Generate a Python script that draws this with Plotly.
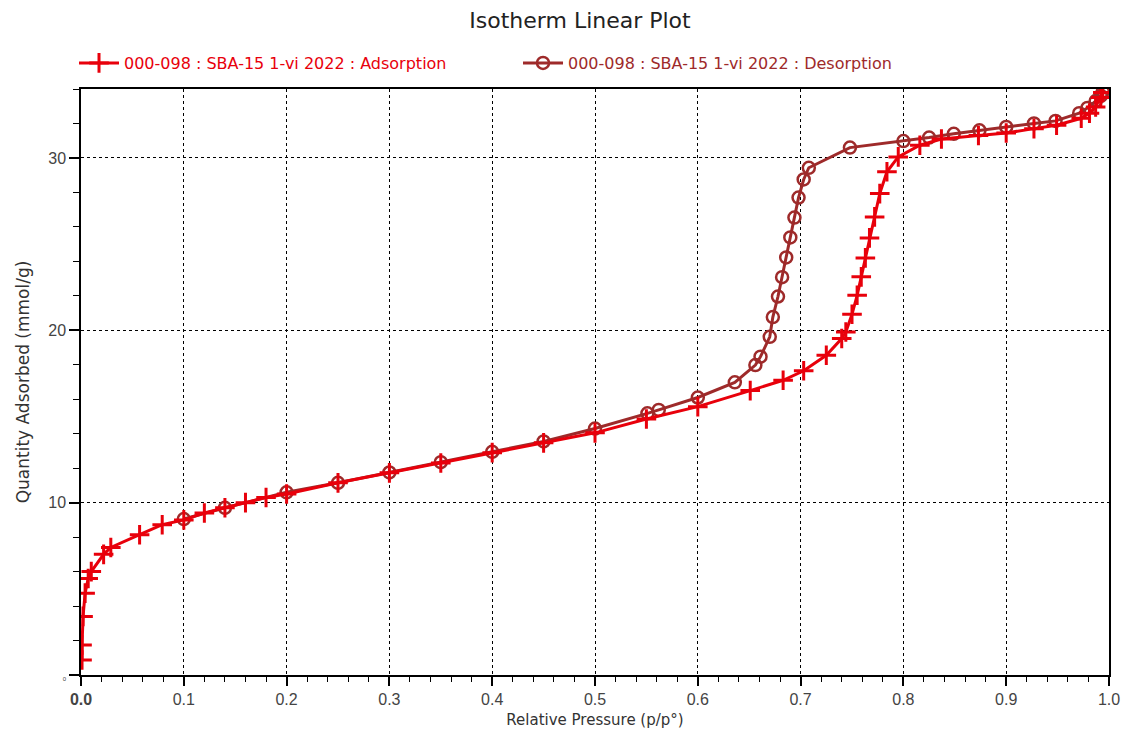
import plotly.graph_objects as go

# Adsorption branch (relative pressure, quantity adsorbed mmol/g)
p_ads = [0.001, 0.001, 0.002, 0.004, 0.007, 0.010, 0.022, 0.029, 0.057, 0.079,
         0.100, 0.120, 0.140, 0.160, 0.180, 0.200, 0.250, 0.300, 0.350, 0.400,
         0.450, 0.500, 0.550, 0.600, 0.651, 0.683, 0.703, 0.725, 0.740, 0.744,
         0.750, 0.755, 0.759, 0.763, 0.767, 0.772, 0.777, 0.784, 0.795, 0.816,
         0.837, 0.873, 0.900, 0.927, 0.949, 0.973, 0.981, 0.987, 0.992, 0.994]
q_ads = [0.87, 1.74, 3.4, 4.75, 5.6, 6.0, 7.0, 7.4, 8.14, 8.72,
         9.0, 9.4, 9.7, 10.0, 10.3, 10.5, 11.15, 11.73, 12.3, 12.9,
         13.47, 14.05, 14.85, 15.57, 16.5, 17.1, 17.65, 18.55, 19.52, 19.9,
         20.93, 22.03, 23.1, 24.2, 25.36, 26.58, 27.93, 29.2, 30.06, 30.74,
         31.1, 31.3, 31.45, 31.7, 31.9, 32.3, 32.6, 32.96, 33.5, 33.8]

# Desorption branch
p_des = [0.994, 0.992, 0.987, 0.979, 0.971, 0.948, 0.927, 0.900, 0.874, 0.849,
         0.825, 0.800, 0.748, 0.708, 0.703, 0.698, 0.694, 0.690, 0.686, 0.682,
         0.678, 0.673, 0.670, 0.661, 0.656, 0.636, 0.600, 0.562, 0.551, 0.500,
         0.450, 0.400, 0.350, 0.300, 0.250, 0.200, 0.140, 0.100]
q_des = [33.85, 33.6, 33.3, 32.9, 32.6, 32.15, 32.0, 31.8, 31.6, 31.4,
         31.18, 30.98, 30.6, 29.43, 28.75, 27.7, 26.54, 25.39, 24.23, 23.08,
         21.96, 20.77, 19.62, 18.47, 17.98, 16.98, 16.1, 15.38, 15.18, 14.3,
         13.55, 12.95, 12.35, 11.75, 11.15, 10.6, 9.7, 9.05]

name_ads = "000-098 : SBA-15 1-vi 2022 : Adsorption"
name_des = "000-098 : SBA-15 1-vi 2022 : Desorption"
x_ticks = [0.0, 0.1, 0.2, 0.3, 0.4, 0.5, 0.6, 0.7, 0.8, 0.9, 1.0]
x_ticktext = ["<b>0.0</b>", "0.1", "0.2", "0.3", "0.4", "0.5", "0.6", "0.7", "0.8", "0.9", "1.0"]
y_ticks = [0, 10, 20, 30]
y_ticktext = ["<span style='font-size:6px'>0</span>", "10", "20", "30"]

RED = "#e8000b"
DRED = "#9e2a2a"

fig = go.Figure()
fig.add_trace(go.Scatter(
    x=p_des, y=q_des, mode="lines+markers", legendrank=2,
    name=f"<span style='color:{DRED}'>{name_des}</span>",
    line=dict(color=DRED, width=3),
    marker=dict(symbol="circle-open", size=12, color=DRED,
                line=dict(color=DRED, width=2.5)),
))
fig.add_trace(go.Scatter(
    x=p_ads, y=q_ads, mode="lines+markers", legendrank=1,
    name=f"<span style='color:{RED}'>{name_ads}</span>",
    line=dict(color=RED, width=3),
    marker=dict(symbol="cross-thin", size=14, color=RED,
                line=dict(color=RED, width=3)),
))

fig.update_layout(
    width=1123, height=734,
    paper_bgcolor="white", plot_bgcolor="white",
    margin=dict(l=81, r=14, t=89, b=59, autoexpand=False),
    font=dict(family="Liberation Sans, Arial, sans-serif", size=14, color="#333"),
    title=dict(text="Isotherm Linear Plot", x=580 / 1123, xanchor="center",
               y=1 - 20 / 734, yanchor="middle",
               font=dict(family="DejaVu Sans, sans-serif", size=22, color="#222")),
    showlegend=True,
    legend=dict(orientation="h",
                x=-0.0068, y=1.0444, xanchor="left", yanchor="middle",
                font=dict(family="DejaVu Sans, sans-serif", size=16),
                bgcolor="rgba(0,0,0,0)", itemwidth=40,
                entrywidth=389, entrywidthmode="pixels"),
    xaxis=dict(
        range=[0, 1], tickvals=x_ticks, ticktext=x_ticktext, automargin=False,
        ticklabeloverflow="allow",
        showline=True, linecolor="black", linewidth=1.5, mirror=True,
        ticks="outside", ticklen=9, tickwidth=1.5, tickcolor="black",
        showgrid=True, gridcolor="black", griddash="dot", gridwidth=1,
        minor=dict(dtick=0.02, ticks="outside", ticklen=5, tickwidth=1.2,
                   tickcolor="black", showgrid=False),
        tickfont=dict(size=16, color="#444"),
        title=dict(text="Relative Pressure (p/p°)",
                   font=dict(family="DejaVu Sans, sans-serif", size=15, color="#333"),
                   standoff=8),
        zeroline=False,
    ),
    yaxis=dict(
        range=[0, 34], tickvals=y_ticks, ticktext=y_ticktext, automargin=False,
        showline=True, linecolor="black", linewidth=1.5, mirror=True,
        ticks="outside", ticklen=10, tickwidth=1.5, tickcolor="black",
        showgrid=True, gridcolor="black", griddash="dot", gridwidth=1,
        minor=dict(dtick=2, ticks="outside", ticklen=6, tickwidth=1.2,
                   tickcolor="black", showgrid=False),
        tickfont=dict(size=16, color="#444"),
        title=dict(text="Quantity Adsorbed (mmol/g)",
                   font=dict(family="DejaVu Sans, sans-serif", size=17, color="#333"),
                   standoff=14),
        zeroline=False,
    ),
)

# Remove the page's default body margin so the figure fills the window exactly.
fig.write_html(
    "out.html",
    config={"displayModeBar": False},
    post_script="document.body.style.margin='0';document.body.style.overflow='hidden';",
)
